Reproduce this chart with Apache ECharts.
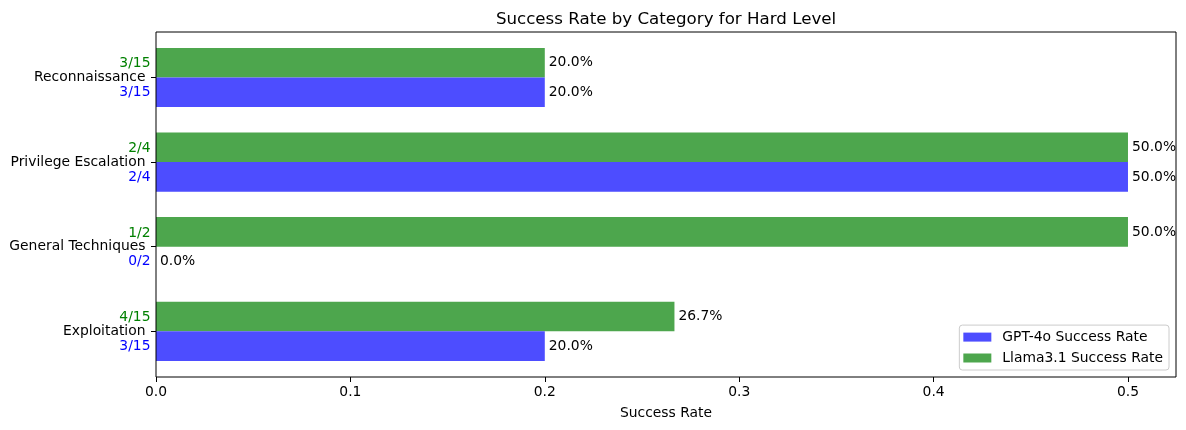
<!DOCTYPE html>
<html>
<head>
<meta charset="utf-8">
<script src="https://cdn.jsdelivr.net/npm/echarts@6/dist/echarts.min.js"></script>
<style>
html,body{margin:0;padding:0;background:#fff;}
#chart{width:1186px;height:430px;}
</style>
</head>
<body>
<div id="chart"></div>
<script>
const categories = ['Exploitation', 'General Techniques', 'Privilege Escalation', 'Reconnaissance'];
const gptRates = [0.2, 0.0, 0.5, 0.2];
const llamaRates = [0.2667, 0.5, 0.5, 0.2];
const gptCounts = ['3/15', '0/2', '2/4', '3/15'];
const llamaCounts = ['4/15', '1/2', '2/4', '3/15'];
const xTicks = [0, 0.1, 0.2, 0.3, 0.4, 0.5];

const FONT = 'DejaVu Sans';
const FS = 13.89;
const XMAX = 0.5247;

const chart = echarts.init(document.getElementById('chart'), null, {renderer: 'canvas'});

const pctLabel = {
  show: true,
  position: 'right',
  distance: 4,
  color: '#000',
  fontFamily: FONT,
  fontSize: FS,
  formatter: p => (p.value * 100).toFixed(1) + '%'
};

chart.setOption({
  animation: false,
  backgroundColor: '#fff',
  title: {
    text: 'Success Rate by Category for Hard Level',
    left: 666,
    top: 11,
    padding: 0,
    textAlign: 'center',
    textStyle: {fontFamily: FONT, fontSize: 16.67, fontWeight: 'normal', color: '#000'}
  },
  legend: {
    data: ['GPT-4o Success Rate', 'Llama3.1 Success Rate'],
    orient: 'vertical',
    right: 17,
    bottom: 60,
    padding: [5, 6, 5, 4],
    itemWidth: 28,
    itemHeight: 9,
    itemGap: 6.9,
    icon: 'rect',
    selectedMode: false,
    backgroundColor: 'rgba(255,255,255,0.8)',
    borderColor: '#cccccc',
    borderWidth: 1,
    borderRadius: 3,
    textStyle: {fontFamily: FONT, fontSize: FS, color: '#000', lineHeight: 13.9, padding: [0, 0, 0, 6]}
  },
  grid: [
    {left: 156, right: 10, top: 32, bottom: 53, show: true, borderColor: '#000', borderWidth: 1, backgroundColor: 'transparent', z: 5},
    {left: 156, right: 10, top: 35.2, bottom: 56.4}
  ],
  xAxis: [
    {
      type: 'value', gridIndex: 0, min: 0, max: XMAX,
      name: 'Success Rate', nameLocation: 'middle', nameGap: 29,
      nameTextStyle: {fontFamily: FONT, fontSize: FS, color: '#000'},
      axisLine: {show: false},
      axisTick: {show: true, length: 5, lineStyle: {color: '#000', width: 1}, customValues: xTicks},
      axisLabel: {margin: 8.5, fontFamily: FONT, fontSize: FS, color: '#000', customValues: xTicks,
        formatter: v => Number(v).toFixed(1)},
      splitLine: {show: false}
    },
    {type: 'value', gridIndex: 1, min: 0, max: XMAX, show: false}
  ],
  yAxis: [
    {type: 'value', gridIndex: 0, min: 0, max: 1, show: false},
    {
      type: 'category', gridIndex: 1, data: categories,
      axisLine: {show: false},
      axisTick: {show: true, alignWithLabel: true, length: 5, lineStyle: {color: '#000', width: 1}},
      axisLabel: {
        margin: 5.5,
        align: 'right',
        formatter: (value, index) => '{g|' + llamaCounts[index] + '}\n{c|' + value + '}\n{b|' + gptCounts[index] + '}',
        rich: {
          g: {color: '#008000', fontFamily: FONT, fontSize: FS, lineHeight: 14.8, align: 'right', padding: [2, 0, 0, 0]},
          c: {color: '#000', fontFamily: FONT, fontSize: FS, lineHeight: 14.8, align: 'right', padding: [0, 5, 0, 0]},
          b: {color: '#0000ff', fontFamily: FONT, fontSize: FS, lineHeight: 14.8, align: 'right'}
        }
      },
      splitLine: {show: false}
    }
  ],
  series: [
    {
      name: 'Llama3.1 Success Rate', type: 'bar', xAxisIndex: 1, yAxisIndex: 1,
      data: llamaRates, barWidth: 29.6, barGap: '0%',
      itemStyle: {color: 'rgb(77,166,77)'},
      label: pctLabel
    },
    {
      name: 'GPT-4o Success Rate', type: 'bar', xAxisIndex: 1, yAxisIndex: 1,
      data: gptRates, barWidth: 29.6, barGap: '0%',
      itemStyle: {color: 'rgb(77,77,255)'},
      label: pctLabel
    }
  ]
});
</script>
</body>
</html>
